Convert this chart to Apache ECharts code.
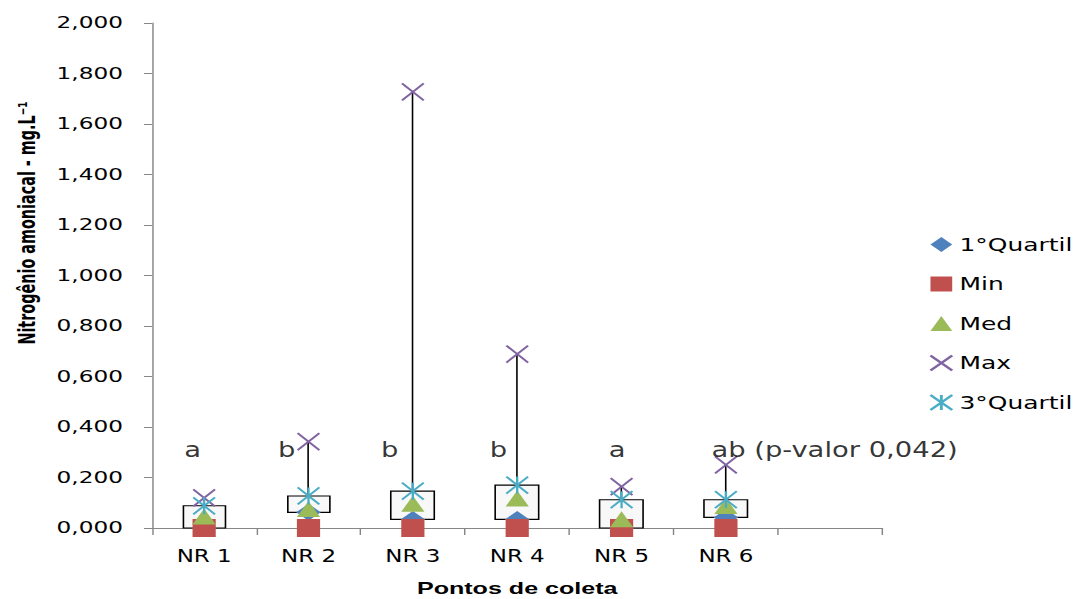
<!DOCTYPE html>
<html>
<head>
<meta charset="utf-8">
<script src="https://cdn.jsdelivr.net/npm/echarts@6/dist/echarts.min.js"></script>
<style>
  html, body { margin: 0; padding: 0; background: #fff; overflow: hidden; }
  #wrap { width: 1074px; height: 599px; overflow: hidden; }
  /* chart is laid out narrow and widened horizontally */
  #chart { width: 740.69px; height: 599px; transform: scaleX(1.45); transform-origin: 0 0; }
</style>
</head>
<body>
<div id="wrap"><div id="chart"></div></div>
<script>
// Pontos de coleta (the last slot is an empty category)
const categories = ['NR 1', 'NR 2', 'NR 3', 'NR 4', 'NR 5', 'NR 6', ''];

// Nitrogênio amoniacal (mg/L) summary per point
const quartil1 = [0.000, 0.062, 0.034, 0.034, 0.000, 0.042];
const minimo   = [0.000, 0.000, 0.000, 0.000, 0.000, 0.000];
const mediana  = [0.046, 0.075, 0.096, 0.117, 0.035, 0.087];
const maximo   = [0.119, 0.342, 1.727, 0.689, 0.164, 0.250];
const quartil3 = [0.088, 0.127, 0.146, 0.170, 0.112, 0.112];

// Statistical group letters
const letras = ['a', 'b', 'b', 'b', 'a', 'ab (p-valor 0,042)'];
const letrasNivel = 0.31;

// Y axis ticks
const yMin = 0, yMax = 2, yStep = 0.2;

const FONT = 'DejaVu Sans';
const CONDENSED = '"DejaVu Sans Condensed", "DejaVu Sans", sans-serif';
const ICON_X = 'path://M0,0L10,10M0,10L10,0';
const ICON_STAR = 'path://M0,0L10,10M0,10L10,0M5,0L5,10';

// horizontal nudges for the group letters (px)
const letraOffsets = [[-8, 0], [-15, 0], [-16, 0], [-13, 0], [-3, 0], [-10, 0]];

const chart = echarts.init(document.getElementById('chart'), null, { renderer: 'svg' });

const candleData = quartil1.map((q1, i) => [q1, quartil3[i], minimo[i], maximo[i]]);

function pointSeries(name, values, symbol, size, color, stroke) {
  return {
    name: name,
    type: 'scatter',
    data: values.map((v, i) => [i, v]),
    symbol: symbol,
    symbolSize: size,
    z: 5,
    itemStyle: stroke
      ? { color: color, borderColor: color, borderWidth: 1.7, opacity: 1 }
      : { color: color, opacity: 1 },
    emphasis: { disabled: true }
  };
}

const option = {
  animation: false,
  backgroundColor: '#fff',
  grid: {
    left: 104.8, right: 132.4, top: 23, bottom: 71,
    containLabel: false,
    outerBoundsMode: 'none'
  },
  xAxis: {
    type: 'category',
    data: categories,
    boundaryGap: true,
    name: 'Pontos de coleta',
    nameLocation: 'middle',
    nameGap: 52,
    nameTextStyle: {
      fontFamily: '"Liberation Sans", Arial, sans-serif', fontWeight: 'bold',
      fontSize: 17.3, lineHeight: 16, color: '#000'
    },
    axisLine: { lineStyle: { color: '#868686', width: 1 } },
    axisTick: { show: true, length: 7, lineStyle: { color: '#868686' }, alignWithLabel: false },
    axisLabel: { fontFamily: CONDENSED, fontSize: 17.6, color: '#000', margin: 19, interval: 0 },
    splitLine: { show: false }
  },
  yAxis: {
    type: 'value',
    min: yMin,
    max: yMax,
    interval: yStep,
    axisLine: { show: true, lineStyle: { color: '#868686', width: 1 } },
    axisTick: { show: true, length: 5.5, lineStyle: { color: '#868686' } },
    axisLabel: {
      fontFamily: FONT, fontSize: 16, color: '#000', margin: 20,
      formatter: v => v.toFixed(3).replace('.', ',')
    },
    splitLine: { show: false }
  },
  legend: {
    orient: 'vertical',
    left: 640.7,
    top: 236,
    padding: 0,
    itemWidth: 15,
    itemHeight: 15,
    itemGap: 22.5,
    textStyle: { fontFamily: FONT, fontSize: 17.2, color: '#000' },
    data: ['1°Quartil', 'Min', 'Med', 'Max', '3°Quartil']
  },
  graphic: [{
    type: 'text',
    x: 18.6,
    y: 223,
    rotation: Math.PI / 2,
    style: {
      text: 'Nitrogênio amoniacal - mg.L⁻¹',
      fontFamily: 'DejaVu Sans Condensed',
      fontWeight: 'bold',
      fontSize: 16,
      fill: '#000',
      align: 'center',
      verticalAlign: 'middle'
    }
  }],
  series: [
    {
      name: 'caixa',
      type: 'candlestick',
      data: candleData,
      barWidth: 30,
      z: 2,
      itemStyle: {
        color: '#f8f8f8', color0: '#f8f8f8',
        borderColor: '#000', borderColor0: '#000',
        borderWidth: 1.1
      },
      emphasis: { disabled: true }
    },
    pointSeries('1°Quartil', quartil1, 'diamond', 17, '#4F81BD', false),
    pointSeries('Min', minimo, 'rect', [16, 18], '#C0504D', false),
    pointSeries('Med', mediana, 'triangle', 16, '#9BBB59', false),
    pointSeries('Max', maximo, ICON_X, [15, 17], '#8064A2', true),
    pointSeries('3°Quartil', quartil3, ICON_STAR, [15, 17], '#4BACC6', true),
    {
      name: 'letras',
      type: 'scatter',
      symbolSize: 0,
      z: 6,
      data: letras.map((t, i) => ({
        value: [i, letrasNivel],
        label: {
          show: true,
          formatter: t,
          position: 'inside',
          offset: letraOffsets[i],
          align: i === letras.length - 1 ? 'left' : 'center',
          verticalAlign: 'middle',
          fontFamily: CONDENSED,
          fontSize: 21,
          color: '#000'
        }
      })),
      emphasis: { disabled: true },
      silent: true
    }
  ]
};

chart.setOption(option);
</script>
</body>
</html>
